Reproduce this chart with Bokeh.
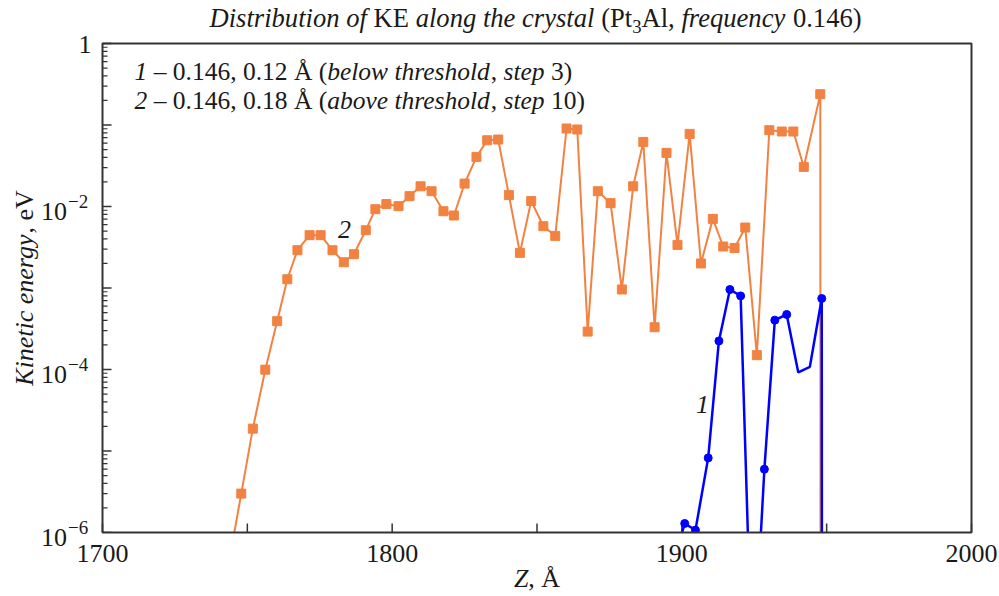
import math
from bokeh.plotting import figure
from bokeh.models import Label, Range1d, BoxAnnotation
from bokeh.embed import file_html
from bokeh.resources import INLINE

# ---------------- data ----------------
orange_z = [1744.0, 1747.9, 1751.9, 1756.2, 1760.3, 1763.8, 1767.3, 1771.5, 1775.3, 1779.4,
            1783.3, 1786.8, 1790.9, 1794.2, 1798.0, 1802.2, 1806.0, 1809.8, 1813.6, 1817.7,
            1821.3, 1825.0, 1829.1, 1832.8, 1836.6, 1840.3, 1844.1, 1848.0, 1852.2, 1856.3,
            1860.2, 1863.9, 1867.5, 1871.0, 1875.4, 1879.3, 1883.2, 1886.7, 1890.6, 1894.7,
            1898.5, 1902.7, 1906.6, 1910.7, 1914.3, 1918.2, 1921.9, 1925.9, 1930.2, 1934.5,
            1938.5, 1942.1, 1947.8, 1947.9]
orange_ke = [5.0e-7, 3.0e-6, 1.88e-5, 9.95e-5, 3.92e-4, 1.28e-3, 2.91e-3, 4.45e-3, 4.45e-3, 2.91e-3,
             2.07e-3, 2.60e-3, 5.12e-3, 9.27e-3, 1.07e-2, 1.01e-2, 1.34e-2, 1.77e-2, 1.54e-2, 8.75e-3,
             7.76e-3, 1.91e-2, 4.06e-2, 6.5e-2, 6.63e-2, 1.38e-2, 2.70e-3, 1.17e-2, 5.73e-3, 4.36e-3,
             9.06e-2, 8.81e-2, 2.92e-4, 1.54e-2, 1.10e-2, 9.59e-4, 1.77e-2, 6.2e-2, 3.30e-4, 4.55e-2,
             3.38e-3, 7.78e-2, 2.0e-3, 7.05e-3, 3.23e-3, 3.10e-3, 5.52e-3, 1.50e-4, 8.63e-2, 8.32e-2,
             8.32e-2, 3.06e-2, 0.239, 1e-9]

blue_z = [1896.8, 1901.0, 1904.7, 1909.1, 1912.8, 1916.6, 1920.3, 1924.4, 1928.5, 1932.1,
          1936.2, 1940.2, 1944.2, 1948.3, 1948.4]
blue_ke = [3.9e-7, 1.29e-6, 1.07e-6, 8.23e-6, 2.24e-4, 9.58e-4, 8.0e-4, 1.3e-8, 5.98e-6, 4.03e-4,
           4.73e-4, 9.2e-5, 1.08e-4, 7.43e-4, 1e-9]
blue_dot = [0, 1, 1, 1, 1, 1, 1, 0, 1, 1, 1, 0, 0, 1, 0]

x_tick_labels = [1700, 1800, 1900, 2000]
x_ticks = [1700, 1750, 1800, 1850, 1900, 1950, 2000]
y_label_exps = [0, -2, -4, -6]
y_decades = [0, -1, -2, -3, -4, -5, -6]
y_minor_mult = [2, 3, 4, 5, 6, 7, 8, 9]

ORANGE = "#F28241"
BLUE = "#0000FF"
TXT = "#1a1a1a"
AX = "#333333"
FONT = "Liberation Serif"

# ---------------- geometry (page pixels) ----------------
W, H = 999, 596
FL, FR, FT, FB = 102, 971, 43, 532          # plot box edges
X_LO, X_HI = 1700, 2000
Y_LO, Y_HI = 1e-6, 1.0
XS = (FR - FL) / (X_HI - X_LO)              # px per Angstrom
YS = (FB - FT) / 6.0                        # px per decade
BASE_K = 0.34                               # baseline -> label anchor offset (fraction of size)


def dx(px):
    return X_LO + (px - FL) / XS


def dy(py):
    return 10 ** (-(py - FT) / YS)


p = figure(width=W, height=H, output_backend="svg", toolbar_location=None,
           y_axis_type="log", x_axis_location=None, y_axis_location=None,
           x_range=Range1d(dx(0), dx(W)), y_range=Range1d(dy(H), dy(0)),
           min_border=0)
p.title.visible = False
p.background_fill_color = "white"
p.border_fill_color = "white"
p.outline_line_color = None
p.grid.visible = False

# ---------------- ticks (inside the box) ----------------
tick_major = 9
tick_minor = 5
nx = len(x_ticks)
p.segment(x0=x_ticks, y0=[Y_LO] * nx, x1=x_ticks, y1=[Y_LO * 10 ** (tick_major / YS)] * nx,
          line_color=AX, line_width=1.5)
ymaj = [10.0 ** k for k in y_decades]
p.segment(x0=[X_LO] * len(ymaj), y0=ymaj, x1=[X_LO + tick_major / XS] * len(ymaj), y1=ymaj,
          line_color=AX, line_width=1.5)
ymin = [m * 10.0 ** k for k in y_decades[1:] for m in y_minor_mult]
p.segment(x0=[X_LO] * len(ymin), y0=ymin, x1=[X_LO + tick_minor / XS] * len(ymin), y1=ymin,
          line_color=AX, line_width=1.2)

# ---------------- series ----------------
p.line(orange_z, orange_ke, line_color=ORANGE, line_width=2)
p.scatter(orange_z, orange_ke, marker="square", size=9, fill_color=ORANGE, line_color=ORANGE)

p.line(blue_z, blue_ke, line_color=BLUE, line_width=2.5)
bz = [z for z, d in zip(blue_z, blue_dot) if d]
bk = [k for k, d in zip(blue_ke, blue_dot) if d]
p.scatter(bz, bk, marker="circle", size=8, fill_color=BLUE, line_color=BLUE)

# values below the axis are hidden, as in the original
p.add_layout(BoxAnnotation(top=Y_LO, fill_color="white", fill_alpha=1.0, line_color=None))
# plot box
p.add_layout(BoxAnnotation(left=X_LO, right=X_HI, bottom=Y_LO, top=Y_HI,
                           fill_alpha=0.0, fill_color=None,
                           line_color=AX, line_alpha=1.0, line_width=2))

# ---------------- text helpers ----------------
REG = {' ': 250, '(': 333, ')': 333, ',': 250, '.': 250, 'A': 722, 'E': 611, 'K': 722, 'P': 556,
       'V': 722, '\u00c5': 722, '\u2013': 500, '\u2212': 564, 'a': 444, 'b': 500, 'c': 444, 'd': 500,
       'e': 444, 'f': 333, 'g': 500, 'h': 500, 'i': 278, 'l': 278, 'n': 500, 'o': 500, 'p': 500,
       'q': 500, 'r': 333, 's': 389, 't': 278, 'u': 500, 'v': 500, 'w': 722, 'y': 500}
ITA = {' ': 250, ',': 250, 'D': 722, 'K': 667, 'Z': 556, 'a': 500, 'b': 500, 'c': 444, 'd': 500,
       'e': 444, 'f': 278, 'g': 500, 'h': 500, 'i': 278, 'k': 444, 'l': 278, 'n': 500, 'o': 500,
       'p': 500, 'q': 500, 'r': 389, 's': 389, 't': 278, 'u': 500, 'v': 444, 'w': 667, 'y': 444}


def tw(s, ital, size):
    tab = ITA if ital else REG
    return sum(tab.get(c, 500) for c in s) * size / 1000.0


def lab(text, px, py, size, ital=False, align="left", vertical=False):
    # px, py: baseline start point in page pixels
    if vertical:
        ax_, ay_ = px - BASE_K * size, py
    else:
        ax_, ay_ = px, py - BASE_K * size
    p.add_layout(Label(x=dx(ax_), y=dy(ay_), text=text, text_font=FONT,
                       text_font_size=f"{size:.1f}px",
                       text_font_style="italic" if ital else "normal",
                       text_color=TXT, text_align=align, text_baseline="alphabetic",
                       angle=math.pi / 2 if vertical else 0.0))


def run(segs, px, py, size, vertical=False):
    for text, ital, shift, scale in segs:
        fs = size * scale
        lead = len(text) - len(text.lstrip(' '))
        core = text.strip(' ')
        lw = tw(' ' * lead, ital, fs)
        if vertical:
            lab(core, px + shift, py - lw, fs, ital, vertical=True)
            py -= tw(text, ital, fs)
        else:
            lab(core, px + lw, py + shift, fs, ital)
            px += tw(text, ital, fs)


FS = 26

# title
TS = 26.6
run([("Distribution of ", True, 0, 1), ("KE", False, 0, 1), (" along the crystal ", True, 0, 1),
     ("(Pt", False, 0, 1), ("3", False, 5, 0.7), ("Al, ", False, 0, 1),
     ("frequency", True, 0, 1), (" 0.146)", False, 0, 1)], 209, 27, TS)

# legend text
LS = 25.5
run([("1", True, 0, 1), (" \u2013 0.146, 0.12 \u00c5 (", False, 0, 1), ("below threshold", True, 0, 1),
     (", ", False, 0, 1), ("step", True, 0, 1), (" 3)", False, 0, 1)], 134, 80, LS)
run([("2", True, 0, 1), (" \u2013 0.146, 0.18 \u00c5 (", False, 0, 1), ("above threshold", True, 0, 1),
     (", ", False, 0, 1), ("step", True, 0, 1), (" 10)", False, 0, 1)], 134, 109, LS)

# curve labels
lab("2", 344, 238, FS, ital=True, align="center")
lab("1", 702, 413, FS, ital=True, align="center")

# y axis title (vertical)
ysegs = [("Kinetic energy", True, 0, 1), (", eV", False, 0, 1)]
ylen = sum(tw(t, i, FS * s) for t, i, _, s in ysegs)
run(ysegs, 33, (FT + FB) / 2 + ylen / 2, FS, vertical=True)

# x axis title
xsegs = [("Z", True, 0, 1), (", \u00c5", False, 0, 1)]
xlen = sum(tw(t, i, FS * s) for t, i, _, s in xsegs)
run(xsegs, (FL + FR) / 2 - xlen / 2, 587, FS)

# x tick labels
for v in x_tick_labels:
    lab(str(v), FL + (v - X_LO) * XS, 562, FS, align="center")

# y tick labels
for k in y_label_exps:
    line_py = FT + YS * (-k)
    if k == 0:
        lab("1", 91, line_py + 10, FS, align="right")
    else:
        lab("10", 66.5, line_py + 13.5, FS, align="right")
        lab("\u2212" + str(-k), 67.5, line_py + 1, 19, align="left")

open("out.html", "w").write(file_html(p, INLINE))
